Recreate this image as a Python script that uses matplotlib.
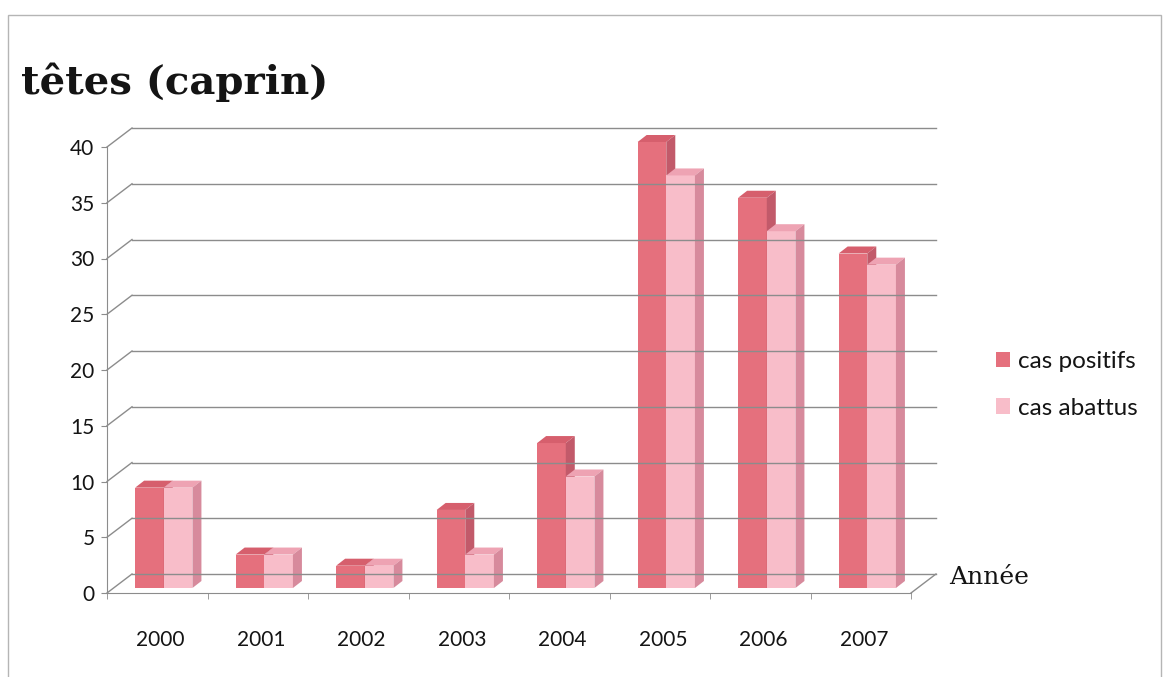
import matplotlib
matplotlib.use('Agg')
import matplotlib.pyplot as plt
from matplotlib.patches import Polygon, Rectangle

# données : nombre de têtes (caprin) par année
annees = ['2000', '2001', '2002', '2003', '2004', '2005', '2006', '2007']
cas_positifs = [9, 3, 2, 7, 13, 40, 35, 30]
cas_abattus = [9, 3, 2, 3, 10, 37, 32, 29]
y_ticks = [0, 5, 10, 15, 20, 25, 30, 35, 40]

W, H = 1164, 677
SX, SY = 100.5, 11.15          # pixels par unité (x, y)
X0, Y0 = 107, 593              # origine de l'axe avant, en pixels

# décalages de la pseudo-perspective (en unités de données)
BACK_DX, BACK_DY = 25 / SX, 19 / SY
BAR_DX, BAR_DY = 9 / SX, 7 / SY
BAR_BASE = 5 / SY
BAR_W = 0.285
BAR_OFF = 0.28

COL_POS = ('#E5707D', '#D65F6D', '#C25A6A')
COL_AB = ('#F8BDC9', '#EEA3B3', '#D78A9C')
GRID = '#8c8c8c'
TXT = '#141414'

fig = plt.figure(figsize=(W / 100, H / 100), dpi=100)
left, right, top = X0, 945, 115
ax = fig.add_axes([left / W, 1 - Y0 / H, (right - left) / W, (Y0 - top) / H])
ax.set_xlim(0, (right - left) / SX)
ax.set_ylim(0, (Y0 - top) / SY)
ax.patch.set_visible(False)

n = len(annees)

# mur du fond et lignes de rappel
for v in y_ticks:
    ax.plot([BACK_DX, n + BACK_DX], [v + BACK_DY, v + BACK_DY], color=GRID, lw=1, clip_on=False)
    ax.plot([0, BACK_DX], [v, v + BACK_DY], color=GRID, lw=1, clip_on=False)
ax.plot([n, n + BACK_DX], [0, BACK_DY], color=GRID, lw=1, clip_on=False)


def draw_bar(x, v, cols):
    front, topc, side = cols
    b = ax.bar(x, v, BAR_W, bottom=BAR_BASE, align='edge', color=front, linewidth=0)
    y1 = BAR_BASE + v
    ax.add_patch(Polygon([(x, y1), (x + BAR_W, y1), (x + BAR_W + BAR_DX, y1 + BAR_DY),
                          (x + BAR_DX, y1 + BAR_DY)], closed=True, color=topc, lw=0))
    ax.add_patch(Polygon([(x + BAR_W, BAR_BASE), (x + BAR_W, y1), (x + BAR_W + BAR_DX, y1 + BAR_DY),
                          (x + BAR_W + BAR_DX, BAR_BASE + BAR_DY)], closed=True, color=side, lw=0))
    return b


for i in range(n):
    h_pos = draw_bar(i + BAR_OFF, cas_positifs[i], COL_POS)
    h_ab = draw_bar(i + BAR_OFF + BAR_W, cas_abattus[i], COL_AB)

# axes avant
for s in ['top', 'right']:
    ax.spines[s].set_visible(False)
ax.spines['left'].set_color(GRID)
ax.spines['bottom'].set_color(GRID)
ax.spines['left'].set_bounds(0, 40)
ax.spines['bottom'].set_bounds(0, n)

tick_font = dict(family='Lato', size=15, color=TXT)
ax.set_yticks(y_ticks)
ax.set_yticklabels([str(v) for v in y_ticks], fontdict=tick_font)
ax.tick_params(axis='y', length=4, color=GRID, pad=5)

ax.set_xticks([i + 0.53 for i in range(n)])
ax.set_xticklabels(annees, fontdict=tick_font)
ax.set_xticks(range(n + 1), minor=True)
ax.tick_params(axis='x', which='major', length=0, pad=27)
ax.tick_params(axis='x', which='minor', length=4, color=GRID)

fig.text(949 / W, 1 - 578 / H, 'Année', family='DejaVu Serif', size=18, va='center',
         ha='left', color=TXT)
fig.text(21 / W, 1 - 82 / H, 'têtes (caprin)', family='DejaVu Serif', weight='bold',
         size=29, va='center', ha='left', color=TXT)

ax.legend([h_pos, h_ab], ['cas positifs', 'cas abattus'], loc='center left',
          bbox_to_anchor=(974 / W, 1 - 385 / H), bbox_transform=fig.transFigure,
          frameon=False, handlelength=0.6, handleheight=0.6, handletextpad=0.3,
          labelspacing=1.05, prop=dict(family='Lato', size=17.5),
          labelcolor=TXT)

# cadre du graphique
fig.add_artist(Rectangle((8 / W, -0.05), (1161 - 8) / W, 1.05 - 15 / H,
                         transform=fig.transFigure, fill=False, ec='#b5b5b5', lw=1))

fig.savefig('out.png', dpi=100)
